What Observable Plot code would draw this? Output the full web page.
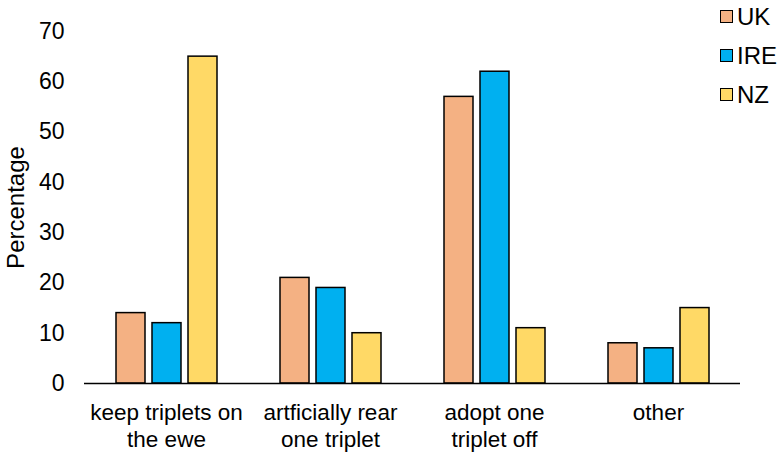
<!DOCTYPE html>
<html>
<head>
<meta charset="utf-8">
<script src="https://cdn.jsdelivr.net/npm/d3@7"></script>
<script src="https://cdn.jsdelivr.net/npm/@observablehq/plot@0.6"></script>
<style>
  html, body { margin: 0; padding: 0; background: #fff; }
  #wrap { position: relative; width: 780px; height: 457px; font-family: "Liberation Sans", Arial, sans-serif; }
  #legend { position: absolute; left: 720px; top: -3px; }
  .row { display: flex; align-items: center; height: 39px; font-size: 24px; color: #000; }
  .sw { width: 11px; height: 11px; border: 1.5px solid #000; margin-right: 4px; box-sizing: content-box; }
</style>
</head>
<body>
<div id="wrap"><div id="legend"></div></div>
<script>
const categories = ["keep triplets on\nthe ewe", "artficially rear\none triplet", "adopt one\ntriplet off", "other"];
const series = ["UK", "IRE", "NZ"];
const colors = ["#F4B183", "#00B0F0", "#FFD966"];
const ukValues = [14, 21, 57, 8];
const ireValues = [12, 19, 62, 7];
const nzValues = [65, 10, 11, 15];
const yTicks = [0, 10, 20, 30, 40, 50, 60, 70];

const valuesBySeries = [ukValues, ireValues, nzValues];
const data = [];
categories.forEach((c, i) => {
  series.forEach((s, j) => data.push({category: c, series: s, value: valuesBySeries[j][i]}));
});

const chart = Plot.plot({
  width: 780,
  height: 457,
  marginLeft: 82,
  marginRight: 39,
  marginTop: 31,
  marginBottom: 74,
  style: {fontFamily: "Liberation Sans, Arial, sans-serif", fontSize: "22px", color: "#000", background: "#fff"},
  fx: {domain: categories, padding: 0, label: null},
  x: {domain: series, paddingInner: 0.2, paddingOuter: 0.855, axis: null},
  y: {domain: [0, 70], ticks: yTicks},
  color: {domain: series, range: colors},
  marks: [
    Plot.barY(data, {fx: "category", x: "series", y: "value", fill: "series", stroke: "#000", strokeWidth: 1.5}),
    Plot.ruleY([0], {stroke: "#000", strokeWidth: 1.5}),
    Plot.axisY({ticks: yTicks, tickSize: 0, tickPadding: 20, fontSize: 23, label: null}),
    Plot.axisY({ticks: [], tickSize: 0, fontSize: 24, label: "Percentage", labelAnchor: "center", labelArrow: "none", labelOffset: 78}),
    Plot.ruleX([0], {frameAnchor: "left", y1: 0, y2: 70, stroke: "#000", strokeWidth: 1.5, facet: "exclude"}),
    Plot.axisFx({tickSize: 0, tickPadding: 17, fontSize: 22.5, lineHeight: 1.2, label: null, anchor: "bottom"})
  ]
});
document.getElementById("wrap").prepend(chart);

const legend = document.getElementById("legend");
series.forEach((s, i) => {
  const row = document.createElement("div");
  row.className = "row";
  const sw = document.createElement("div");
  sw.className = "sw";
  sw.style.background = colors[i];
  const t = document.createElement("span");
  t.textContent = s;
  row.appendChild(sw);
  row.appendChild(t);
  legend.appendChild(row);
});
</script>
</body>
</html>
